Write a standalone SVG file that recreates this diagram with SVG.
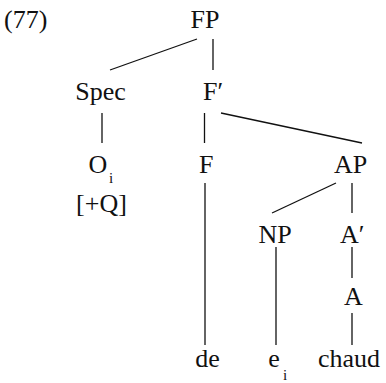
<svg xmlns="http://www.w3.org/2000/svg" width="386" height="383" viewBox="0 0 386 383">
<style>
text{font-family:'Liberation Serif','DejaVu Serif','Noto Serif','Times New Roman',Times,serif;font-size:26px;fill:#111}
.m{text-anchor:middle}
.sub{font-size:15px}
#edges line{stroke:#111;stroke-width:1.3}
</style>
<rect width="386" height="383" fill="#fff"/>
<g id="edges">
<line x1="197" y1="39" x2="110" y2="70"/>
<line x1="213" y1="39" x2="213" y2="70"/>
<line x1="102" y1="113" x2="102" y2="143"/>
<line x1="204.5" y1="113" x2="204.5" y2="143"/>
<line x1="221" y1="113" x2="362" y2="143"/>
<line x1="205" y1="183" x2="205" y2="345"/>
<line x1="336" y1="183" x2="272" y2="213"/>
<line x1="352" y1="183" x2="352" y2="213"/>
<line x1="276" y1="247" x2="276" y2="345"/>
<line x1="352" y1="247" x2="352" y2="278"/>
<line x1="352" y1="313" x2="352" y2="345"/>
</g>
<g id="label77"><text x="4" y="28">(77)</text></g>
<g id="FP"><text class="m" x="205" y="28">FP</text></g>
<g id="Spec"><text class="m" x="100.5" y="100">Spec</text></g>
<g id="Fbar"><text x="203" y="100">F′</text></g>
<g id="Oi"><text class="m" x="98" y="173">O</text><text class="sub" x="109" y="183">i</text></g>
<g id="Q"><text class="m" x="101.5" y="212">[+Q]</text></g>
<g id="F"><text x="199" y="173">F</text></g>
<g id="AP"><text class="m" x="350.5" y="173">AP</text></g>
<g id="NP"><text class="m" x="275" y="243">NP</text></g>
<g id="Abar"><text x="340" y="243">A′</text></g>
<g id="A"><text class="m" x="353.5" y="305">A</text></g>
<g id="de"><text class="m" x="207.5" y="367">de</text></g>
<g id="ei"><text class="m" x="274" y="367">e</text><text class="sub" x="283" y="380">i</text></g>
<g id="chaud"><text class="m" x="349" y="367">chaud</text></g>
</svg>
